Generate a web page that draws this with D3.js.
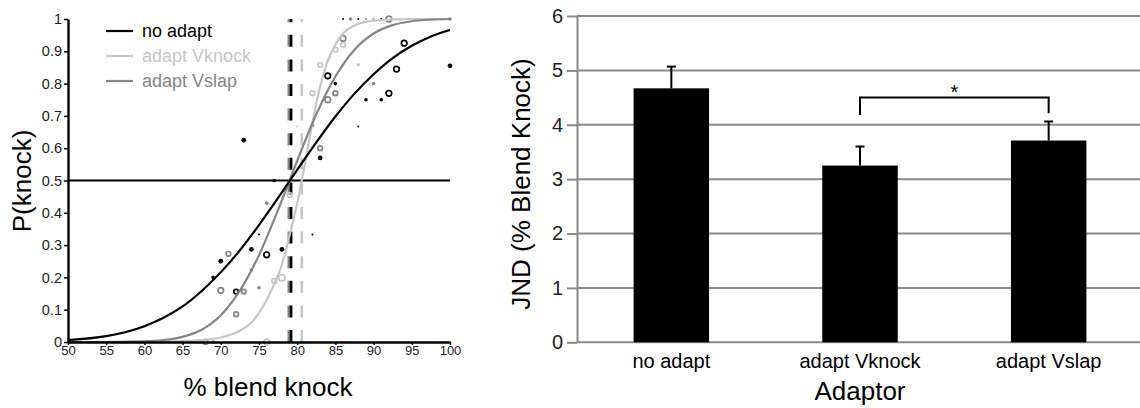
<!DOCTYPE html>
<html>
<head>
<meta charset="utf-8">
<script src="https://cdn.jsdelivr.net/npm/d3@7"></script>
<style>
  body { margin: 0; background: #fff; }
  svg { display: block; font-family: "Liberation Sans", Arial, sans-serif; }
</style>
</head>
<body>
<div id="chart"></div>
<script>
// ---- left panel: psychometric functions ----
const blendTicks = [50, 55, 60, 65, 70, 75, 80, 85, 90, 95, 100];
const probTicks = [0, 0.1, 0.2, 0.3, 0.4, 0.5, 0.6, 0.7, 0.8, 0.9, 1];

// fitted curves
const fitX = [50, 55, 60, 62.5, 65, 67.5, 70, 72.5, 75, 77.5, 80, 82.5, 85, 87.5, 90, 92.5, 95, 97.5, 100];
const fitNoAdapt = [0.006, 0.018, 0.049, 0.075, 0.11, 0.158, 0.216, 0.284, 0.362, 0.446, 0.533, 0.618, 0.698, 0.769, 0.829, 0.879, 0.917, 0.946, 0.966];
const fitVslap = [0, 0, 0.002, 0.006, 0.016, 0.038, 0.083, 0.159, 0.269, 0.409, 0.561, 0.705, 0.822, 0.905, 0.955, 0.981, 0.993, 0.998, 1];
const fitVknockX = [50, 60, 65, 67.5, 70, 72.5, 74, 75, 76, 77, 78, 79, 80, 80.6, 81, 82, 83, 84, 85, 86, 87.5, 90, 95, 100];
const fitVknock = [0, 0.001, 0.003, 0.006, 0.014, 0.035, 0.06, 0.09, 0.13, 0.18, 0.24, 0.33, 0.43, 0.5, 0.55, 0.68, 0.79, 0.87, 0.92, 0.955, 0.98, 0.995, 1, 1];

// points of subjective equality (dashed lines)
const pseNoAdapt = 79.2, pseVknock = 80.6, pseVslap = 78.9;

// observed proportions: [% blend, P(knock), trial weight]
const ptsNoAdapt = [
  [69, 0.20, 2], [70, 0.25, 3], [72, 0.156, 4], [73, 0.625, 3], [74, 0.287, 3],
  [75, 0.333, 1], [76, 0.27, 5], [77, 0.5, 2], [78, 0.287, 3], [82, 0.333, 1],
  [83, 0.57, 3], [84, 0.824, 5], [85, 0.80, 2], [86, 1, 1], [88, 0.667, 1],
  [88, 1, 1], [89, 0.75, 2], [91, 0.75, 2], [91, 1, 1], [92, 0.77, 5],
  [93, 0.845, 5], [94, 0.925, 5], [100, 0.855, 3]
];
const ptsVknock = [
  [76, 0, 5], [77, 0.189, 4], [78, 0.199, 6], [79, 0.455, 4], [80, 0.667, 1],
  [82, 0.77, 4], [83, 0.858, 4], [85, 0.905, 4], [86, 0.92, 4], [88, 0.858, 2],
  [90, 1, 2]
];
const ptsVslap = [
  [68, 0, 4], [69, 0, 2], [70, 0.16, 5], [71, 0.273, 4], [72, 0.086, 4],
  [73, 0.156, 4], [74, 0.223, 2], [75, 0.168, 2], [76, 0.43, 2], [82, 0.67, 2],
  [83, 0.60, 4], [84, 0.75, 5], [85, 0.77, 4], [86, 0.94, 5], [87, 1, 2],
  [89, 1, 1], [90, 0.80, 2], [92, 1, 5], [100, 1, 2]
];

// ---- right panel: JND bars ----
const conditions = ["no adapt", "adapt Vknock", "adapt Vslap"];
const jnd = [4.67, 3.25, 3.71];
const jndErr = [0.40, 0.35, 0.35];
const jndTicks = [0, 1, 2, 3, 4, 5, 6];
const sigPair = [1, 2];

const colBlack = "#000", colLight = "#c6c6c6", colGray = "#858585";

const svg = d3.select("#chart").append("svg")
  .attr("width", 1140).attr("height", 408);

// ============ left ============
const x = d3.scaleLinear().domain([50, 100]).range([68, 450]);
const y = d3.scaleLinear().domain([0, 1]).range([342, 19]);
const r = d3.scaleSqrt().domain([1, 6]).range([1, 3.8]);

const left = svg.append("g");

const series = [
  { pts: ptsNoAdapt, fx: fitX, fy: fitNoAdapt, pse: pseNoAdapt, color: colBlack },
  { pts: ptsVslap, fx: fitX, fy: fitVslap, pse: pseVslap, color: colGray },
  { pts: ptsVknock, fx: fitVknockX, fy: fitVknock, pse: pseVknock, color: colLight }
];

// dashed PSE lines
series.slice().reverse().forEach(s => {
  left.append("line")
    .attr("x1", x(s.pse)).attr("x2", x(s.pse))
    .attr("y1", y(0)).attr("y2", y(1))
    .attr("stroke", s.color)
    .attr("stroke-width", 2.6)
    .attr("stroke-dasharray", "12 12.6");
});

// 0.5 criterion line
left.append("line")
  .attr("x1", x(50)).attr("x2", x(100))
  .attr("y1", y(0.5)).attr("y2", y(0.5))
  .attr("stroke", "#000").attr("stroke-width", 2);

// observed points
series.forEach(s => {
  left.selectAll(null)
    .data(s.pts)
    .enter()
    .append("circle")
    .attr("cx", d => x(d[0]))
    .attr("cy", d => y(d[1]))
    .attr("r", d => d[2] > 3 ? r(d[2]) - 0.6 : r(d[2]))
    .attr("fill", d => d[2] > 3 ? "none" : s.color)
    .attr("stroke", d => d[2] > 3 ? s.color : "none")
    .attr("stroke-width", d => d[2] > 3 ? 1.7 : 0);
});

// fitted curves
const line = d3.line().curve(d3.curveMonotoneX);
[series[2], series[1], series[0]].forEach(s => {
  left.append("path")
    .attr("d", line(s.fx.map((v, i) => [x(v), y(s.fy[i])])))
    .attr("fill", "none")
    .attr("stroke", s.color)
    .attr("stroke-width", 2.2);
});

// axes
const yAxis = left.append("g")
  .attr("transform", `translate(${x(50)},0)`)
  .call(d3.axisLeft(y).tickValues(probTicks).tickFormat(d => String(+d.toFixed(1))).tickSize(4).tickSizeOuter(0).tickPadding(2));
const xAxis = left.append("g")
  .attr("transform", `translate(0,${y(0)})`)
  .call(d3.axisBottom(x).tickValues(blendTicks).tickSize(3).tickSizeOuter(0).tickPadding(1));
[yAxis, xAxis].forEach(a => {
  a.select(".domain").attr("stroke", "#000").attr("stroke-width", 2.4);
  a.selectAll(".tick line").attr("stroke", "#000").attr("stroke-width", 1.5);
  a.selectAll("text").attr("fill", "#222").style("font-family", "'Liberation Sans', Arial, sans-serif");
});
yAxis.selectAll("text").style("font-size", "14.5px");
xAxis.selectAll("text").style("font-size", "13px");

left.append("text")
  .attr("transform", "translate(31,181) rotate(-90)")
  .attr("text-anchor", "middle")
  .style("font-size", "26px")
  .text("P(knock)");
left.append("text")
  .attr("x", 268).attr("y", 396)
  .attr("text-anchor", "middle")
  .style("font-size", "26px")
  .text("% blend knock");

// legend
const legendNames = ["no adapt", "adapt Vknock", "adapt Vslap"];
const legendCols = [colBlack, colLight, colGray];
legendNames.forEach((name, i) => {
  const ly = 31 + i * 25;
  left.append("line")
    .attr("x1", 106).attr("x2", 133).attr("y1", ly).attr("y2", ly)
    .attr("stroke", legendCols[i]).attr("stroke-width", 2.2);
  left.append("text")
    .attr("x", 142).attr("y", ly)
    .attr("dy", "0.35em")
    .attr("fill", legendCols[i])
    .style("font-size", "18px")
    .text(name);
});

// ============ right ============
const bx = d3.scaleBand()
  .domain(conditions)
  .range([577, 1143])
  .paddingInner(0.6)
  .paddingOuter(0.3);
const by = d3.scaleLinear().domain([0, 6]).range([342.3, 16]);

const right = svg.append("g");

// gridlines
right.selectAll("line.grid")
  .data(jndTicks)
  .enter()
  .append("line")
  .attr("class", "grid")
  .attr("x1", 577).attr("x2", 1140)
  .attr("y1", d => by(d)).attr("y2", d => by(d))
  .attr("stroke", "#8a8a8a").attr("stroke-width", 2);

const jAxis = right.append("g")
  .attr("transform", "translate(577,0)")
  .call(d3.axisLeft(by).tickValues(jndTicks).tickFormat(d3.format("d")).tickSize(10).tickSizeOuter(0).tickPadding(4));
jAxis.select(".domain").attr("stroke", "#8a8a8a").attr("stroke-width", 2);
jAxis.selectAll(".tick line").attr("stroke", "#8a8a8a").attr("stroke-width", 2);
jAxis.selectAll("text").attr("fill", "#222").style("font-size", "20px").style("font-family", "'Liberation Sans', Arial, sans-serif");

// bars
right.selectAll("rect.bar")
  .data(conditions)
  .enter()
  .append("rect")
  .attr("class", "bar")
  .attr("x", d => bx(d))
  .attr("width", bx.bandwidth())
  .attr("y", (d, i) => by(jnd[i]))
  .attr("height", (d, i) => by(0) - by(jnd[i]))
  .attr("fill", "#000");

// error bars
conditions.forEach((c, i) => {
  const cx = bx(c) + bx.bandwidth() / 2;
  right.append("line")
    .attr("x1", cx).attr("x2", cx)
    .attr("y1", by(jnd[i])).attr("y2", by(jnd[i] + jndErr[i]))
    .attr("stroke", "#000").attr("stroke-width", 2);
  right.append("line")
    .attr("x1", cx - 4.5).attr("x2", cx + 4.5)
    .attr("y1", by(jnd[i] + jndErr[i])).attr("y2", by(jnd[i] + jndErr[i]))
    .attr("stroke", "#000").attr("stroke-width", 2);
});

// category labels
right.selectAll("text.cat")
  .data(conditions)
  .enter()
  .append("text")
  .attr("class", "cat")
  .attr("x", d => bx(d) + bx.bandwidth() / 2)
  .attr("y", 368)
  .attr("text-anchor", "middle")
  .style("font-size", "20px")
  .text(d => d);

// significance bracket
const sa = bx(conditions[sigPair[0]]) + bx.bandwidth() / 2;
const sb = bx(conditions[sigPair[1]]) + bx.bandwidth() / 2;
right.append("path")
  .attr("d", `M${sa},${by(4.18)}V${by(4.5)}H${sb}V${by(4.21)}`)
  .attr("fill", "none").attr("stroke", "#000").attr("stroke-width", 2);
right.append("text")
  .attr("x", (sa + sb) / 2).attr("y", 99)
  .attr("text-anchor", "middle")
  .style("font-size", "20px")
  .text("*");

right.append("text")
  .attr("transform", "translate(530,184) rotate(-90)")
  .attr("text-anchor", "middle")
  .style("font-size", "26px")
  .text("JND (% Blend Knock)");
right.append("text")
  .attr("x", bx(conditions[1]) + bx.bandwidth() / 2).attr("y", 400)
  .attr("text-anchor", "middle")
  .style("font-size", "26px")
  .text("Adaptor");
</script>
</body>
</html>
